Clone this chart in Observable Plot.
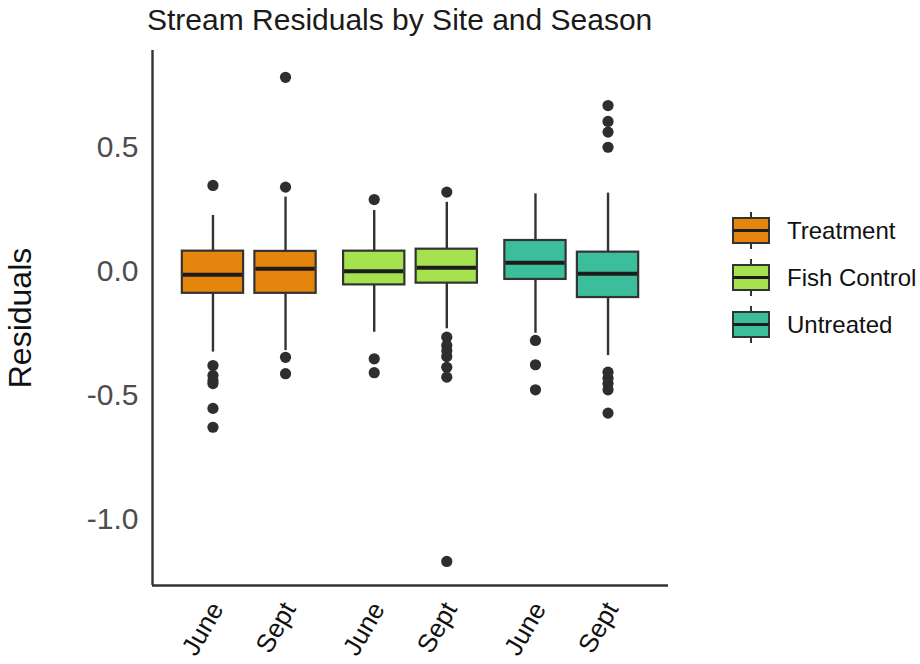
<!DOCTYPE html>
<html>
<head>
<meta charset="utf-8">
<script src="https://cdn.jsdelivr.net/npm/d3@7"></script>
<script src="https://cdn.jsdelivr.net/npm/@observablehq/plot@0.6"></script>
<style>
  html, body { margin: 0; padding: 0; background: #fff; }
  #wrap { position: relative; width: 920px; height: 664px; overflow: hidden; font-family: "Liberation Sans", Arial, sans-serif; }
  #title { position: absolute; left: 147px; top: 3px; font-size: 30px; color: #1a1a1a; white-space: nowrap; }
  #chart { position: absolute; left: 0; top: 0; }
  #legend { position: absolute; left: 727px; top: 207px; }
  .item { display: flex; align-items: center; height: 47px; }
  .item span { font-size: 24px; color: #111; margin-left: 12px; white-space: nowrap; }
</style>
</head>
<body>
<div id="wrap">
  <div id="chart"></div>
  <div id="title">Stream Residuals by Site and Season</div>
  <div id="legend"></div>
</div>
<script>
// ---- data ----
const sites = ["Treatment", "Fish Control", "Untreated"];
const seasons = ["June", "Sept"];
const siteColors = ["#E6850E", "#A6E24F", "#3CBE9C"];

const boxSite   = ["Treatment", "Treatment", "Fish Control", "Fish Control", "Untreated", "Untreated"];
const boxSeason = ["June", "Sept", "June", "Sept", "June", "Sept"];
const whiskerLow  = [-0.325, -0.319, -0.245, -0.231, -0.249, -0.339];
const q1          = [-0.088, -0.088, -0.054, -0.047, -0.032, -0.105];
const median      = [-0.013, 0.011, 0.001, 0.015, 0.035, -0.009];
const q3          = [0.082, 0.081, 0.082, 0.090, 0.125, 0.078];
const whiskerHigh = [0.226, 0.300, 0.246, 0.279, 0.313, 0.316];

const outTreatmentJune = [0.347, -0.379, -0.419, -0.440, -0.452, -0.552, -0.628];
const outTreatmentSept = [0.783, 0.340, -0.346, -0.412];
const outFishJune      = [0.290, -0.352, -0.408];
const outFishSept      = [0.320, -0.265, -0.298, -0.320, -0.343, -0.386, -0.426, -1.169];
const outUntreatedJune = [-0.278, -0.376, -0.477];
const outUntreatedSept = [0.669, 0.605, 0.562, 0.501, -0.406, -0.430, -0.452, -0.477, -0.571];
const outliers = [outTreatmentJune, outTreatmentSept, outFishJune, outFishSept, outUntreatedJune, outUntreatedSept];

const yTicks = [-1.0, -0.5, 0.0, 0.5];

// ---- layout helpers (dodge, like ggplot) ----
const dodge = 0.225, halfWidth = 0.19;
const pos = (site, season) => sites.indexOf(site) + 1 + (season === "June" ? -dodge : dodge);

const boxes = boxSite.map((s, i) => ({
  site: s, season: boxSeason[i], pos: pos(s, boxSeason[i]),
  lo: whiskerLow[i], q1: q1[i], median: median[i], q3: q3[i], hi: whiskerHigh[i]
}));
const points = boxes.flatMap((b, i) => outliers[i].map(v => ({pos: b.pos, value: v, site: b.site})));
const tickLabel = new Map(boxes.map(b => [b.pos, b.season]));

const xDomain = [0.4, 3.6];
const yDomain = [-1.266, 0.891];

const chart = Plot.plot({
  width: 700,
  height: 664,
  marginLeft: 152,
  marginRight: 32,
  marginTop: 50,
  marginBottom: 79,
  style: { fontFamily: "Liberation Sans, Arial, sans-serif", background: "transparent" },
  x: { domain: xDomain, axis: null },
  y: { domain: yDomain, axis: null },
  color: { domain: sites, range: siteColors },
  marks: [
    Plot.axisY({
      ticks: yTicks, tickFormat: d => d.toFixed(1), tickSize: 0, tickPadding: 14,
      fontSize: 30, color: "#4d4d4d", label: "Residuals", labelAnchor: "center",
      labelArrow: "none", labelOffset: 144
    }),
    Plot.axisX({
      ticks: boxes.map(b => b.pos), tickFormat: d => tickLabel.get(d), tickSize: 0,
      tickPadding: 19, tickRotate: -60, fontSize: 26, color: "#111", label: null, dx: 4
    }),
    Plot.ruleX(boxes, { x: "pos", y1: "lo", y2: "hi", stroke: "#333", strokeWidth: 2.4 }),
    Plot.rect(boxes, {
      x1: d => d.pos - halfWidth, x2: d => d.pos + halfWidth, y1: "q1", y2: "q3",
      fill: "site", stroke: "#333", strokeWidth: 2.2
    }),
    Plot.ruleY(boxes, {
      y: "median", x1: d => d.pos - halfWidth + 0.006, x2: d => d.pos + halfWidth - 0.006,
      stroke: "#1c1c1c", strokeWidth: 4
    }),
    Plot.dot(points, { x: "pos", y: "value", r: 5.6, fill: "#2e2e2e", stroke: "none" }),
    Plot.ruleX([xDomain[0]], { stroke: "#333", strokeWidth: 2.4 }),
    Plot.ruleY([yDomain[0]], { stroke: "#333", strokeWidth: 2.4 })
  ]
});
document.getElementById("chart").appendChild(chart);
d3.select(chart).selectAll("[aria-label='y-axis label'] text").attr("font-size", 32).attr("fill", "#111");

// ---- legend ----
const legend = d3.select("#legend");
sites.forEach((s, i) => {
  const item = legend.append("div").attr("class", "item");
  const svg = item.append("svg").attr("width", 48).attr("height", 47);
  svg.append("line").attr("x1", 24).attr("x2", 24).attr("y1", 5).attr("y2", 42)
    .attr("stroke", "#333").attr("stroke-width", 2);
  svg.append("rect").attr("x", 6).attr("y", 11).attr("width", 36).attr("height", 25)
    .attr("fill", siteColors[i]).attr("stroke", "#333").attr("stroke-width", 2);
  svg.append("line").attr("x1", 6).attr("x2", 42).attr("y1", 23.5).attr("y2", 23.5)
    .attr("stroke", "#1c1c1c").attr("stroke-width", 3);
  item.append("span").text(s);
});
</script>
</body>
</html>
